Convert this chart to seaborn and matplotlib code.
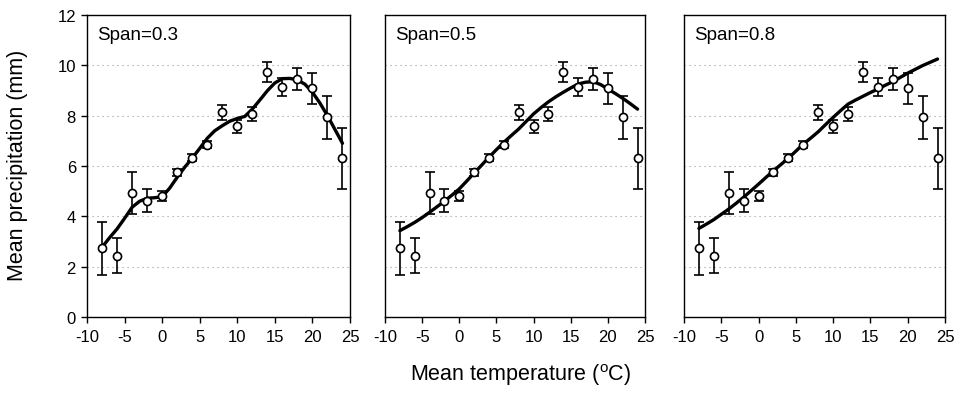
import numpy as np
import pandas as pd
import matplotlib
matplotlib.use("Agg")
import matplotlib.pyplot as plt
import seaborn as sns

# ---- data ----
temp = [-8, -6, -4, -2, 0, 2, 4, 6, 8, 10, 12, 14, 16, 18, 20, 22, 24]
precip = [2.73, 2.44, 4.93, 4.62, 4.82, 5.75, 6.33, 6.85, 8.13, 7.58, 8.07, 9.75, 9.15, 9.46, 9.09, 7.93, 6.30]
err = [1.05, 0.68, 0.83, 0.45, 0.20, 0.13, 0.15, 0.15, 0.29, 0.25, 0.28, 0.40, 0.35, 0.43, 0.62, 0.85, 1.22]

curve_x = [-8, -7, -6, -5, -4, -3, -2, -1, 0, 1, 2, 3, 4, 5, 6, 7, 8, 9, 10, 11, 12,
           13, 14, 15, 16, 17, 18, 19, 20, 21, 22, 23, 24]
span03 = [2.77, 3.15, 3.50, 3.92, 4.36, 4.60, 4.72, 4.74, 4.78, 5.12, 5.55, 5.95, 6.31, 6.70,
          7.10, 7.40, 7.60, 7.78, 7.89, 7.97, 8.26, 8.62, 8.99, 9.30, 9.47, 9.48, 9.42, 9.25,
          8.93, 8.50, 8.00, 7.45, 6.90]
span05 = [3.43, 3.59, 3.76, 3.95, 4.16, 4.38, 4.60, 4.84, 5.09, 5.40, 5.72, 6.03, 6.35, 6.65,
          6.94, 7.21, 7.47, 7.77, 8.07, 8.32, 8.55, 8.75, 8.93, 9.10, 9.26, 9.33, 9.35, 9.24,
          9.06, 8.88, 8.69, 8.48, 8.26]
span08 = [3.52, 3.69, 3.87, 4.08, 4.29, 4.52, 4.76, 5.02, 5.28, 5.55, 5.81, 6.06, 6.31, 6.59,
          6.87, 7.11, 7.36, 7.65, 7.93, 8.20, 8.46, 8.62, 8.77, 8.92, 9.06, 9.21, 9.35, 9.52,
          9.69, 9.84, 9.99, 10.12, 10.25]
spans = ["Span=0.3", "Span=0.5", "Span=0.8"]
curves = [span03, span05, span08]
yticks = [0, 2, 4, 6, 8, 10, 12]
xticks = [-10, -5, 0, 5, 10, 15, 20, 25]

sns.set_style("white")
plt.rcParams["font.family"] = ["Liberation Sans", "DejaVu Sans"]
plt.rcParams["mathtext.fontset"] = "custom"
plt.rcParams["mathtext.rm"] = "Liberation Sans"
plt.rcParams["text.color"] = "black"
plt.rcParams["xtick.color"] = "black"
plt.rcParams["ytick.color"] = "black"

pts = pd.DataFrame({"temp": temp, "precip": precip, "err": err})

fig = plt.figure(figsize=(9.59, 4.02), dpi=100)
lefts = [87 / 959, 385 / 959, 684 / 959]
widths = [263 / 959, 260 / 959, 261 / 959]
bottom = 1 - 318 / 402
height = 302 / 402

tick_font = {"size": 12}

for i in range(3):
    ax = fig.add_axes([lefts[i], bottom, widths[i], height])
    ax.set_xlim(-10, 25)
    ax.set_ylim(0, 12)
    for g in yticks[1:-1]:
        ax.axhline(g, color="#999999", lw=0.8, ls=(0, (1, 3.5)), zorder=0)
    cdf = pd.DataFrame({"temp": curve_x, "fit": curves[i]})
    sns.lineplot(data=cdf, x="temp", y="fit", ax=ax, color="black", lw=2.4, zorder=2)
    ax.errorbar(pts["temp"], pts["precip"], yerr=pts["err"], fmt="none",
                ecolor="black", elinewidth=1.2, capsize=3.5, capthick=1.2, zorder=3)
    sns.scatterplot(data=pts, x="temp", y="precip", ax=ax, marker="o", s=34,
                    facecolor="white", edgecolor="black", linewidth=1.2, zorder=4)
    ax.set_xlabel("")
    ax.set_ylabel("")
    ax.set_xticks(xticks)
    ax.set_xticklabels([str(v) for v in xticks], fontdict=tick_font)
    ax.tick_params(axis="x", bottom=True, direction="out", length=4, width=1,
                   color="black", pad=5)
    if i == 0:
        ax.set_yticks(yticks)
        ax.set_yticklabels([str(v) for v in yticks], fontdict=tick_font)
        ax.tick_params(axis="y", left=True, direction="out", length=4, width=1,
                       color="black", pad=4)
    else:
        ax.set_yticks([])
    for s in ax.spines.values():
        s.set_color("black")
        s.set_linewidth(1.0)
    ax.text(0.04, 0.965, spans[i], transform=ax.transAxes, ha="left", va="top", fontsize=13.5)

fig.text(18 / 959, 1 - 165 / 402, "Mean precipitation (mm)", rotation=90, ha="center", va="center",
         fontsize=15.5)
fig.text(521 / 959, 1 - 375 / 402, "Mean temperature ($^{\\mathrm{o}}$C)", ha="center", va="center",
         fontsize=15.5)

fig.savefig("out.png", dpi=100)
